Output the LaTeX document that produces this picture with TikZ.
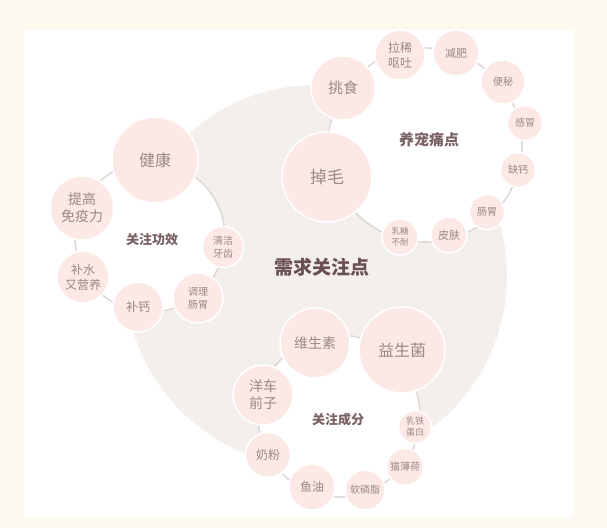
\documentclass[tikz,border=0pt]{standalone}
\usepackage{fontspec}
\setmainfont{Noto Sans CJK SC}
\definecolor{cream}{HTML}{FFFAEF}
\definecolor{coregrey}{HTML}{F3F0EC}
\definecolor{ringgrey}{HTML}{DEDAD6}
\definecolor{bubblefill}{HTML}{FCE9E6}
\definecolor{bubbletext}{HTML}{9E8687}
\definecolor{grouptext}{HTML}{7A6163}
\definecolor{titletext}{HTML}{6B5052}
\tikzset{
  bubble/.style={circle, fill=bubblefill, draw=white, line width=1.5pt, inner sep=0pt,
    text=bubbletext, align=center},
  groupdisc/.style={circle, fill=white, draw=ringgrey, line width=1.6pt, inner sep=0pt},
}
\newcommand{\fs}[2]{\fontsize{#1}{#2}\selectfont}
\begin{document}
\begin{tikzpicture}[x=1pt,y=-1pt]
\useasboundingbox (0,0) rectangle (607,528);
\fill[cream] (0,0) rectangle (607,528);
\fill[white] (24,30) rectangle (573,518);
% core disc
\node[circle, fill=coregrey, minimum size=382pt, inner sep=0pt] (core) at (316,276) {};
% group discs
\node[groupdisc, minimum size=194pt] (g1) at (425,145) {};
\node[groupdisc, minimum size=150pt] (g2) at (150,237) {};
\node[groupdisc, minimum size=162pt] (g3) at (339,416) {};
% labels
\node[text=titletext, font=\bfseries\fs{19}{23}] (title) at (322,267) {需求关注点};
\node[text=grouptext, font=\bfseries\fs{15}{18}] (l1) at (429,140) {养宠痛点};
\node[text=grouptext, font=\bfseries\fs{13}{16}] (l2) at (152,240) {关注功效};
\node[text=grouptext, font=\bfseries\fs{13}{16}] (l3) at (338,420) {关注成分};
% group 1 bubbles
\node[bubble, minimum size=64pt, font=\fs{15}{18}] (tiaoshi) at (343,88) {挑食};
\node[bubble, minimum size=50pt, font=\fs{12}{15}] (laxi) at (400,55) {拉稀\\呕吐};
\node[bubble, minimum size=46pt, font=\fs{11}{13}] (jianfei) at (456,53) {减肥};
\node[bubble, minimum size=44pt, font=\fs{10}{12}] (bianmi) at (503,82) {便秘};
\node[bubble, minimum size=35pt, font=\fs{10}{12}] (ganmao) at (525,123) {感冒};
\node[bubble, minimum size=35pt, font=\fs{10}{12}] (quegai) at (518,170) {缺钙};
\node[bubble, minimum size=35pt, font=\fs{10}{12}] (changwei) at (487,212) {肠胃};
\node[bubble, minimum size=36pt, font=\fs{11}{13}] (pifu) at (449,235) {皮肤};
\node[bubble, minimum size=36pt, font=\fs{8.5}{11}] (rutang) at (400,237) {乳糖\\不耐};
\node[bubble, minimum size=90pt, font=\fs{17}{20}] (diaomao) at (327,177) {掉毛};
% group 2 bubbles
\node[bubble, minimum size=86pt, font=\fs{16}{19}] (jiankang) at (155,160) {健康};
\node[bubble, minimum size=64pt, font=\fs{14}{17}] (tigao) at (82,208) {提高\\免疫力};
\node[bubble, minimum size=52pt, font=\fs{12}{15}] (bushui) at (83,277) {补水\\又营养};
\node[bubble, minimum size=50pt, font=\fs{12}{15}] (bugai) at (138,307) {补钙};
\node[bubble, minimum size=50pt, font=\fs{10}{13}] (tiaoli) at (198,298) {调理\\肠胃};
\node[bubble, minimum size=41pt, font=\fs{10}{13}] (qingjie) at (223,247) {清洁\\牙齿};
% group 3 bubbles
\node[bubble, minimum size=70pt, font=\fs{14}{17}] (weisheng) at (315,343) {维生素};
\node[bubble, minimum size=86pt, font=\fs{16}{19}] (yisheng) at (402,350) {益生菌};
\node[bubble, minimum size=60pt, font=\fs{14}{17}] (yangche) at (263,395) {洋车\\前子};
\node[bubble, minimum size=45pt, font=\fs{12}{15}] (naifen) at (268,455) {奶粉};
\node[bubble, minimum size=46pt, font=\fs{12}{15}] (yuyou) at (312,487) {鱼油};
\node[bubble, minimum size=40pt, font=\fs{10}{12}] (ruanlin) at (365,490) {软磷脂};
\node[bubble, minimum size=37pt, font=\fs{10}{12}] (maobo) at (405,467) {猫薄荷};
\node[bubble, minimum size=33pt, font=\fs{9}{11}] (rutie) at (415,427) {乳铁\\蛋白};
\end{tikzpicture}
\end{document}
